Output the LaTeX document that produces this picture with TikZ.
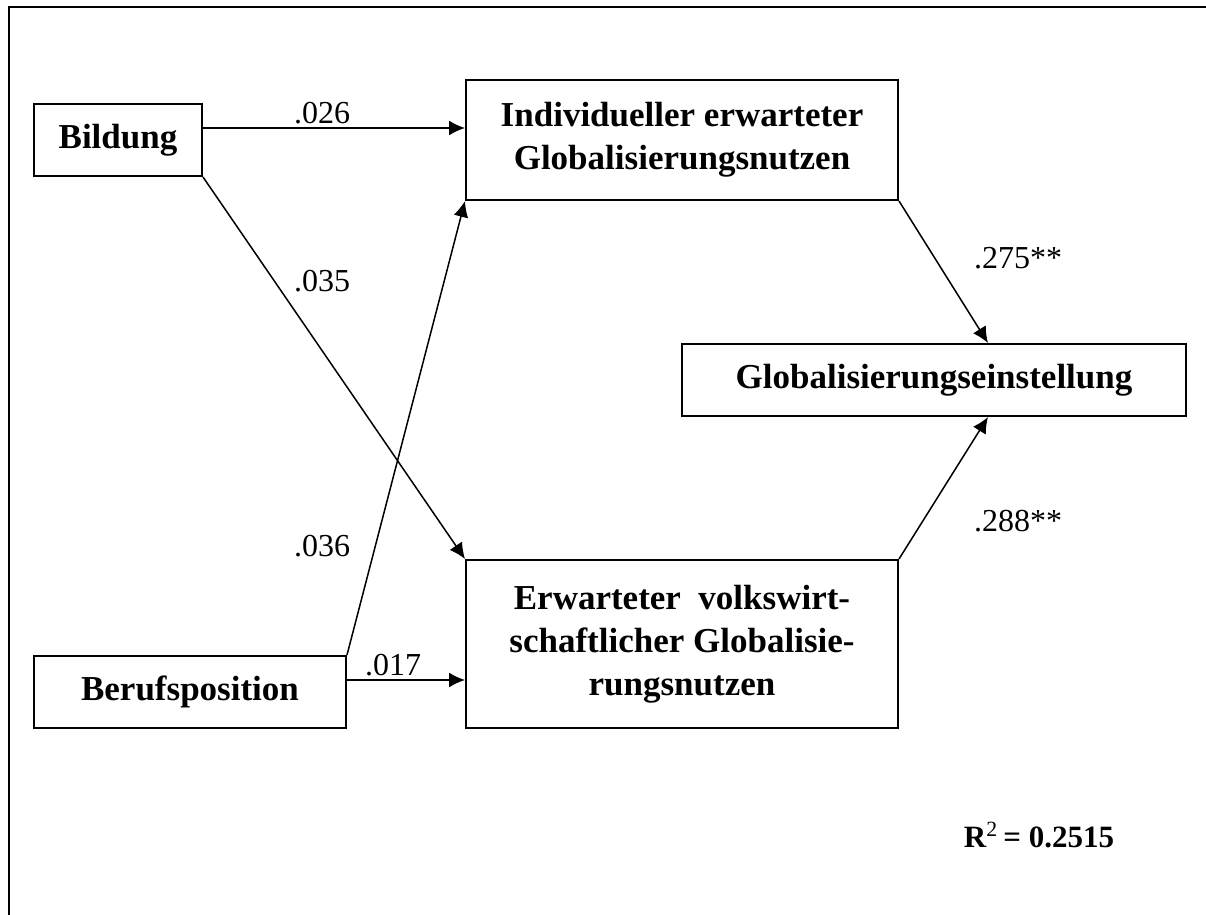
\documentclass[tikz,border=0pt]{standalone}
\usepackage{fontspec}
\setmainfont{Liberation Serif}
\usepackage{tikz}
\usetikzlibrary{arrows.meta,positioning}
\tikzset{edge/.style={color=black, line width=0.75pt, -{Latex[length=8pt,width=7.5pt]}}}
\tikzset{var/.style={draw, line width=1pt, align=center, inner sep=0pt,
    font=\fontsize{17.5}{21.5}\selectfont\bfseries}}
\tikzset{coef/.style={font=\fontsize{16}{19}\selectfont}}

\begin{document}
\begin{tikzpicture}[x=0.5pt, y=-0.5pt]
                \useasboundingbox (0,0) rectangle (1206,915);
                \draw[line width=1pt] (9,915) -- (9,7) -- (1206,7);

                % variables
                \node [var, minimum width=84pt, minimum height=36pt] (bild) at (118,140) {Bildung};
                \node [var, minimum width=156pt, minimum height=36pt] (beruf) at (190,692) {Berufsposition};
                \node [var, minimum width=216pt, minimum height=60pt] (indiv) at (682,140)
                    {Individueller erwarteter\\Globalisierungsnutzen};
                \node [var, minimum width=216pt, minimum height=84pt] (volks) at (682,644)
                    {Erwarteter\ \ volkswirt-\\schaftlicher Globalisie-\\rungsnutzen};
                \node [var, minimum width=252pt, minimum height=36pt] (glob) at (934,380)
                    {Globalisierungseinstellung};

                \path[edge] ([yshift=6pt]bild.east) edge ([yshift=6pt]indiv.west)
                    (bild.south east) edge (volks.north west)
                    (beruf.north east) edge (indiv.south west)
                    ([yshift=6pt]beruf.east) edge ([yshift=-18pt]volks.west)
                    (indiv.south east) edge ([xshift=27pt]glob.north)
                    (volks.north east) edge ([xshift=27pt]glob.south);

                % coefficients
                \node [coef] (c026) at (322,113) {.026};
                \node [coef] (c035) at (322,281) {.035};
                \node [coef] (c036) at (322,546) {.036};
                \node [coef] (c017) at (393,665) {.017};
                \node [coef] (c275) at (1018,258) {.275**};
                \node [coef] (c288) at (1018,521) {.288**};
                \node [font=\fontsize{15.5}{19}\selectfont\bfseries] (rsq) at (1039,835)
                    {R\textsuperscript{\mdseries 2}\,= 0.2515};

            \end{tikzpicture}
\end{document}
